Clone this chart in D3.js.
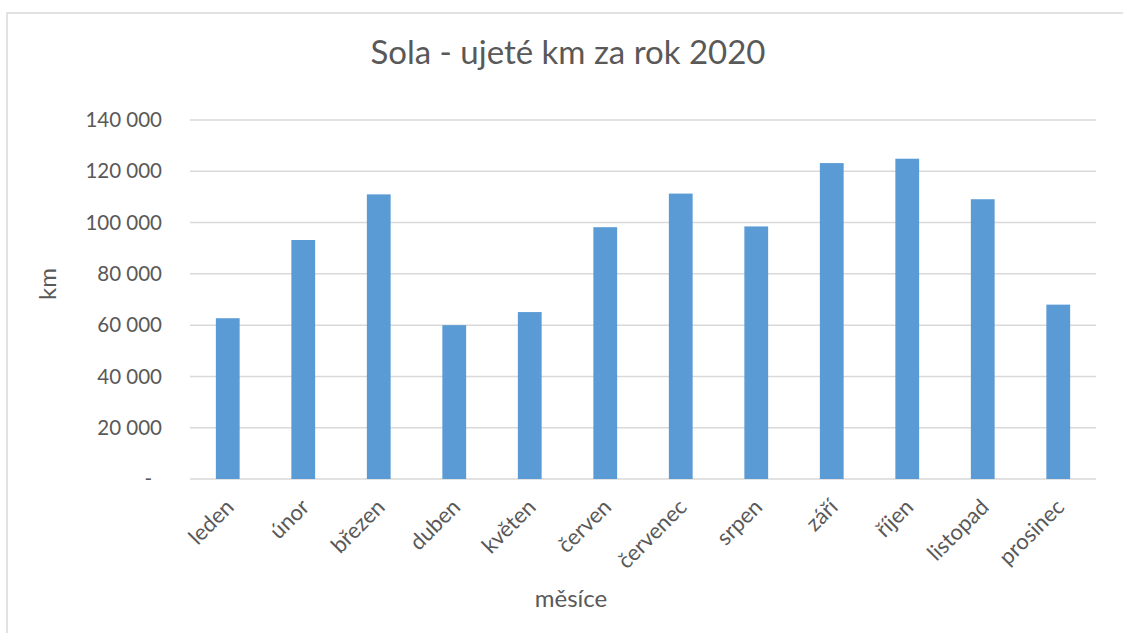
<!DOCTYPE html>
<html>
<head>
<meta charset="utf-8">
<script src="https://cdn.jsdelivr.net/npm/d3@7"></script>
<style>
  body { margin: 0; background: #fff; }
  text { font-family: Lato, "Open Sans", sans-serif; fill: #595959; }
</style>
</head>
<body>
<div id="chart"></div>
<script>
// Data
var months = ["leden", "únor", "březen", "duben", "květen", "červen",
              "červenec", "srpen", "září", "říjen", "listopad", "prosinec"];
var km = [62700, 93200, 111000, 60000, 65100, 98200,
          111300, 98500, 123200, 124900, 109100, 68000];
var yTicks = [0, 20000, 40000, 60000, 80000, 100000, 120000, 140000];

function init() {
    var w = 1123;
    var h = 633;
    var left = 190, right = 1096, top = 120, bottom = 479;

    var svg = d3.select("#chart")
                .append("svg")
                .attr("width", w)
                .attr("height", h);

    // chart area border
    svg.append("rect")
        .attr("x", 7)
        .attr("y", 13)
        .attr("width", 1140)
        .attr("height", 660)
        .attr("fill", "none")
        .attr("stroke", "#d9d9d9")
        .attr("stroke-width", 1.5);

    var xScale = d3.scaleBand()
                    .domain(months)
                    .range([left, right])
                    .paddingInner(0.685)
                    .paddingOuter(0.3425);

    var yScale = d3.scaleLinear()
                    .domain([0, 140000])
                    .range([bottom, top]);

    // gridlines
    svg.append("g")
        .selectAll("line")
        .data(yTicks)
        .enter()
        .append("line")
        .attr("x1", left)
        .attr("x2", right)
        .attr("y1", function(d) { return yScale(d); })
        .attr("y2", function(d) { return yScale(d); })
        .attr("stroke", "#d9d9d9")
        .attr("stroke-width", 1.5);

    // y tick labels
    var fmt = function(d) {
        return d === 0 ? "-" : d3.format(",")(d).replace(/,/g, " ");
    };
    svg.append("g")
        .selectAll("text")
        .data(yTicks)
        .enter()
        .append("text")
        .attr("x", function(d) { return d === 0 ? 152 : 162; })
        .attr("y", function(d) { return yScale(d); })
        .attr("dy", "0.35em")
        .attr("text-anchor", "end")
        .attr("font-size", "20.5px")
        .text(fmt);

    // bars
    svg.selectAll("rect.bar")
        .data(km)
        .enter()
        .append("rect")
        .attr("class", "bar")
        .attr("x", function(d, i) { return xScale(months[i]); })
        .attr("y", function(d) { return yScale(d); })
        .attr("width", xScale.bandwidth())
        .attr("height", function(d) { return bottom - yScale(d); })
        .attr("fill", "#5b9bd5");

    // x axis labels, rotated
    svg.append("g")
        .selectAll("text")
        .data(months)
        .enter()
        .append("text")
        .attr("transform", function(d) {
            var cx = xScale(d) + xScale.bandwidth() / 2 + 2;
            return "translate(" + cx + ",503) rotate(-45)";
        })
        .attr("text-anchor", "end")
        .attr("dy", "0.35em")
        .attr("font-size", "22px")
        .text(function(d) { return d; });

    // title
    svg.append("text")
        .attr("x", 568)
        .attr("y", 64)
        .attr("text-anchor", "middle")
        .attr("font-size", "33px")
        .text("Sola - ujeté km za rok 2020");

    // axis titles
    svg.append("text")
        .attr("transform", "translate(56,284) rotate(-90)")
        .attr("text-anchor", "middle")
        .attr("font-size", "24px")
        .text("km");

    svg.append("text")
        .attr("x", 571)
        .attr("y", 607)
        .attr("text-anchor", "middle")
        .attr("font-size", "24px")
        .text("měsíce");
}

window.onload = init;
</script>
</body>
</html>
